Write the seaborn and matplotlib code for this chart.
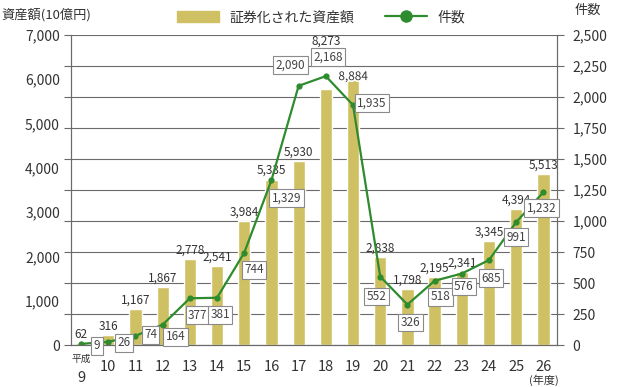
import numpy as np
import seaborn as sns
import matplotlib.pyplot as plt
from matplotlib.patches import Patch
from matplotlib.lines import Line2D
import matplotlib.patheffects as pe

# 年度 (平成) と値
years = ["9", "10", "11", "12", "13", "14", "15", "16", "17",
         "18", "19", "20", "21", "22", "23", "24", "25", "26"]
assets = [62, 316, 1167, 1867, 2778, 2541, 3984, 5335, 5930,
          8273, 8884, 2838, 1798, 2195, 2341, 3345, 4394, 5513]
counts = [9, 26, 74, 164, 377, 381, 744, 1329, 2090,
          2168, 1935, 552, 326, 518, 576, 685, 991, 1232]
left_labels = [0, 1000, 2000, 3000, 4000, 5000, 6000, 7000]
right_ticks = [0, 250, 500, 750, 1000, 1250, 1500, 1750, 2000, 2250, 2500]

BAR = "#cfc163"
GREEN = "#2e8b2e"
GRID = "#6a6a6a"
TXT = "#333333"

sns.set_theme(style="white")
plt.rcParams['font.family'] = ['Noto Sans CJK JP', 'DejaVu Sans']

fig = plt.figure(figsize=(6.3, 3.87), dpi=100)
ax = fig.add_axes([0.1127, 0.1085, 0.7714, 0.8011])

sns.barplot(x=years, y=assets, color=BAR, saturation=1, width=0.45, ax=ax, zorder=2)
ax.set_ylim(0, 10000)
ax.set_axisbelow(True)

# gridlines every 1/10 of the height, labels as drawn in the original
ax.yaxis.remove_overlapping_locs = False
ax.set_yticks(np.arange(0, 10001, 1000))
ax.set_yticklabels([])
ax.grid(axis='y', color=GRID, linewidth=0.8)
ax.set_yticks([v * 10000 / 7000 for v in left_labels],
              [f"{v:,}" for v in left_labels], minor=True)
ax.tick_params(axis='y', which='major', length=5, direction='out', color=GRID, width=0.8, left=True)
ax.tick_params(axis='y', which='minor', length=0, pad=8, labelsize=10, labelcolor=TXT)
ax.set_xlabel("")
ax.set_ylabel("")

# bar value labels (pixel offsets above bar top)
bar_dy = [9] * len(assets)
bar_dy[9] = 47
bar_dy[10] = -7
for i, v in enumerate(assets):
    t = ax.annotate(f"{v:,}", (i, v), xytext=(0, bar_dy[i] * 0.72), textcoords='offset points',
                    ha='center', va='center', fontsize=8.5, color=TXT, zorder=5)
    if i == 10:
        t.set_path_effects([pe.withStroke(linewidth=2.5, foreground='white')])

ax2 = ax.twinx()
sns.lineplot(x=np.arange(len(years)), y=counts, ax=ax2, color=GREEN, marker='o',
             markersize=4.5, markeredgewidth=0, linewidth=1.6)
ax2.set_ylim(0, 2500)
ax2.set_yticks(right_ticks, [f"{v:,}" for v in right_ticks])
ax2.tick_params(axis='y', length=5, direction='out', color=GRID, width=0.8,
                labelsize=10, labelcolor=TXT, pad=6, right=True)
ax2.set_ylabel("")

# count label boxes (pixel offsets: right, down)
box_off = [(16, 2), (16, 1), (15, -1), (13, 12), (8, 17), (3, 17), (10, 17), (15, 18),
           (-8, -21), (2, -19), (19, -2), (-4, 20), (3, 18), (6, 16), (2, 13), (2, 18),
           (0, 15), (-2, 16)]
for i, v in enumerate(counts):
    dx, dy = box_off[i]
    ax2.annotate(f"{v:,}", (i, v), xytext=(dx * 0.72, -dy * 0.72), textcoords='offset points',
                 ha='center', va='center', fontsize=8.5, color="#444444", zorder=6,
                 bbox=dict(boxstyle='square,pad=0.2', fc='white', ec='#8a8a8a', lw=0.8))

ax.set_xlim(-0.37, 17.5)
ax.tick_params(axis='x', length=0, labelsize=10.5, labelcolor=TXT, pad=11)
xt = list(years)
xt[0] = ""
ax.set_xticks(range(len(years)), xt)
xform = ax.get_xaxis_transform()
ax.text(0, -0.045, "平成", transform=xform, ha='center', va='center', fontsize=7, color=TXT)
ax.text(0, -0.107, years[0], transform=xform, ha='center', va='center', fontsize=10.5, color=TXT)
ax.text(17, -0.113, "(年度)", transform=xform, ha='center', va='center', fontsize=8, color=TXT)

for a in (ax, ax2):
    a.spines["top"].set_visible(False)
    for s in ("left", "right", "bottom"):
        a.spines[s].set_color(GRID)
        a.spines[s].set_linewidth(0.8)

handles = [Patch(color=BAR),
           Line2D([], [], color=GREEN, marker='o', markersize=9, linewidth=1.6, markeredgewidth=0)]
fig.legend(handles, ["証券化された資産額", "件数"], loc='center', bbox_to_anchor=(0.51, 0.955),
           ncol=2, frameon=False, fontsize=10, handlelength=3.0, handleheight=0.8,
           columnspacing=2.2, handletextpad=0.8, labelcolor=TXT)

fig.text(0.003, 0.963, "資産額(10億円)", fontsize=9.5, va='center', ha='left', color=TXT)
fig.text(0.933, 0.974, "件数", fontsize=9.5, va='center', ha='center', color=TXT)

fig.savefig("out.png", dpi=100)
